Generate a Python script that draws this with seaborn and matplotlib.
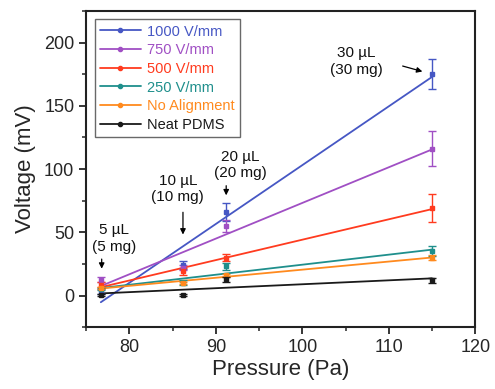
import numpy as np
import pandas as pd
import seaborn as sns
import matplotlib.pyplot as plt
from matplotlib.ticker import MultipleLocator

# === data ===
pressure = [76.7, 86.2, 91.2, 115.0]
labels = ["1000 V/mm", "750 V/mm", "500 V/mm", "250 V/mm", "No Alignment", "Neat PDMS"]
colors = ["#4657c4", "#a04fc4", "#ff3b1f", "#1f8f8c", "#ff8a1e", "#1a1a1a"]

v_1000 = [3.5, 24, 66, 175]
v_750 = [12.6, 22, 55, 116]
v_500 = [8.7, 19, 30, 69]
v_250 = [5, 10, 23, 35]
v_none = [6, 10, 16, 30]
v_neat = [0.5, 0.5, 13, 12]

e_1000 = [2, 3, 7, 12]
e_750 = [2, 2, 5, 14]
e_500 = [2, 3, 3, 11]
e_250 = [1, 2, 3, 4]
e_none = [1, 1, 1, 2]
e_neat = [1, 1, 2, 2]

voltages = [v_1000, v_750, v_500, v_250, v_none, v_neat]
errors = [e_1000, e_750, e_500, e_250, e_none, e_neat]

annot_text = ["5 \u00b5L\n(5 mg)", "10 \u00b5L\n(10 mg)", "20 \u00b5L\n(20 mg)", "30 \u00b5L\n(30 mg)"]

sns.set_style("ticks")
plt.rcParams["font.family"] = ["Liberation Sans", "DejaVu Sans"]

fig = plt.figure(figsize=(4.95, 3.89), dpi=100)
ax = fig.add_axes([0.174, 0.159, 0.786, 0.813])

handles = []
for lab, col, v, e in zip(labels, colors, voltages, errors):
    df = pd.DataFrame({"p": pressure, "v": v})
    sns.regplot(data=df, x="p", y="v", scatter=False, ci=None, ax=ax,
                color=col, line_kws={"lw": 1.3})
    ax.errorbar(pressure, v, yerr=e, fmt="s", ms=3.2, color=col,
                ecolor=col, elinewidth=1, capsize=3, capthick=1, zorder=3)
    h, = ax.plot([], [], "-o", color=col, ms=3, lw=1.3, label=lab)
    handles.append(h)

# annotations with arrows
arrow = dict(arrowstyle="-|>", color="black", lw=0.9, mutation_scale=8)
ax.annotate("", xy=(76.8, 19), xytext=(76.8, 31), arrowprops=arrow)
ax.text(78.2, 45, annot_text[0], ha="center", va="center", fontsize=11, color="#111111")
ax.annotate("", xy=(86.2, 46), xytext=(86.2, 68), arrowprops=arrow)
ax.text(85.6, 84, annot_text[1], ha="center", va="center", fontsize=11, color="#111111")
ax.annotate("", xy=(91.2, 77), xytext=(91.2, 89), arrowprops=arrow)
ax.text(92.8, 103, annot_text[2], ha="center", va="center", fontsize=11, color="#111111")
ax.annotate("", xy=(114.2, 176.5), xytext=(111.3, 182), arrowprops=arrow)
ax.text(106.2, 185, annot_text[3], ha="center", va="center", fontsize=11, color="#111111")

ax.set_xlim(75, 120)
ax.set_ylim(-25, 225)
ax.xaxis.set_major_locator(MultipleLocator(10))
ax.xaxis.set_minor_locator(MultipleLocator(5))
ax.yaxis.set_major_locator(MultipleLocator(50))
ax.yaxis.set_minor_locator(MultipleLocator(25))
ax.tick_params(which="major", length=5, width=1.3, labelsize=13, direction="out")
ax.tick_params(which="minor", length=3, width=1.1, direction="out")
for s in ax.spines.values():
    s.set_linewidth(1.5)
    s.set_color("#222222")

ax.set_xlabel("Pressure (Pa)", fontsize=16, labelpad=2)
ax.set_ylabel("Voltage (mV)", fontsize=16, labelpad=6)

leg = ax.legend(handles=handles, loc="upper left", fontsize=10.5, labelcolor="linecolor",
                frameon=True, fancybox=False, edgecolor="#444444", handlelength=2.8,
                borderpad=0.35, labelspacing=0.32, handletextpad=0.45,
                bbox_to_anchor=(0.004, 0.996))
leg.get_frame().set_linewidth(1.0)

fig.savefig("out.png", dpi=100)
